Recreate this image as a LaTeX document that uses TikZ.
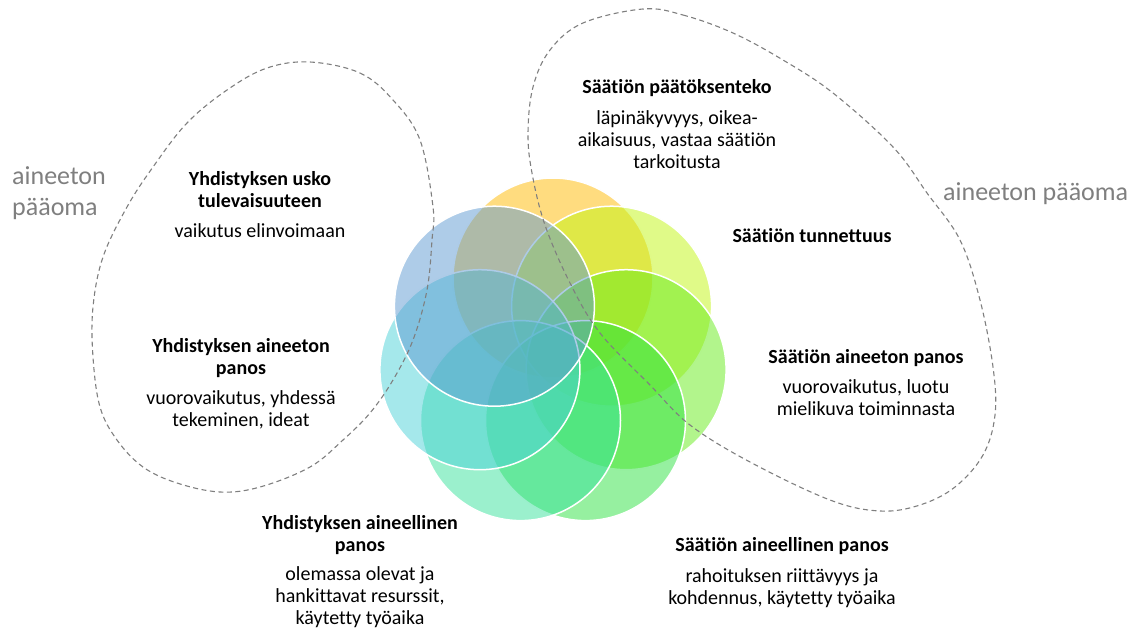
\documentclass[tikz,border=0pt]{standalone}
\usepackage{fontspec}
\setmainfont{Carlito}[Ligatures=NoCommon]

\definecolor{petalorange}{RGB}{255,185,0}
\definecolor{petallime}{RGB}{193,245,17}
\definecolor{petalgreen}{RGB}{101,235,25}
\definecolor{petalmint}{RGB}{45,225,65}
\definecolor{petalteal}{RGB}{55,225,155}
\definecolor{petalcyan}{RGB}{75,209,215}
\definecolor{petalblue}{RGB}{93,153,209}
\definecolor{capgray}{RGB}{127,127,127}

\begin{document}
\begin{tikzpicture}[
    x=1pt, y=-1pt,
    petal/.style={draw=white, line width=1.5pt, fill opacity=0.5, draw opacity=1},
    boundary/.style={draw=capgray, line width=1.1pt, dash pattern=on 5pt off 3.5pt},
    title/.style={font=\bfseries\fontsize{20}{22}\selectfont, align=center, anchor=base, inner sep=0pt},
    desc/.style={font=\fontsize{20}{22}\selectfont, align=center, anchor=base, inner sep=0pt},
    capital/.style={font=\fontsize{26}{31}\selectfont, text=capgray, align=left, anchor=base west, inner sep=0pt}
]
\useasboundingbox (0,0) rectangle (1138,630);

% Petal centres on a ring round (553,353)
\coordinate (p1) at (553,278);
\coordinate (p2) at (611.6,306.2);
\coordinate (p3) at (626.1,369.7);
\coordinate (p4) at (585.5,420.6);
\coordinate (p5) at (520.5,420.6);
\coordinate (p6) at (479.9,369.7);
\coordinate (p7) at (494.4,306.2);

% Overlapping petals
\filldraw[petal, fill=petalorange] (p1) circle (100pt);
\filldraw[petal, fill=petallime] (p2) circle (100pt);
\filldraw[petal, fill=petalgreen] (p3) circle (100pt);
\filldraw[petal, fill=petalmint] (p4) circle (100pt);
\filldraw[petal, fill=petalteal] (p5) circle (100pt);
\filldraw[petal, fill=petalcyan] (p6) circle (100pt);
\filldraw[petal, fill=petalblue] (p7) circle (100pt);

% Dashed boundary, association side
\draw[boundary] plot[smooth cycle, tension=0.6] coordinates {
    (310,62) (360,73) (393,100) (420,140) (433,207) (432,240) (427,290)
    (413,340) (393,380) (370,413) (343,440) (310,467) (260,487) (220,492)
    (177,483) (143,467) (117,440) (100,407) (93,357) (93,307) (103,257)
    (127,207) (153,167) (187,123) (227,90) (267,68)};

% Dashed boundary, foundation side
\draw[boundary] plot[smooth cycle, tension=0.6] coordinates {
    (643,9) (683,15) (733,33) (783,60) (833,93) (893,147) (927,193)
    (960,240) (980,300) (993,367) (995,415) (983,455) (955,487) (920,505)
    (880,511) (830,500) (750,462) (690,425) (650,385) (600,333) (570,283)
    (545,225) (532,173) (528,133) (533,87) (550,50) (583,23)};

% Intangible capital labels (anchored at last baseline)
\node[capital] (leftcap) at (12,215) {aineeton\\pääoma};
\node[capital] (rightcap) at (943,200) {aineeton pääoma};

% Association texts
\node[title] (yusko) at (260,207) {Yhdistyksen usko\\tulevaisuuteen};
\node[desc] (yuskotxt) at (260,237) {vaikutus elinvoimaan};
\node[title] (yaineeton) at (241,374) {Yhdistyksen aineeton\\panos};
\node[desc] (yaineetontxt) at (241,426) {vuorovaikutus, yhdessä\\tekeminen, ideat};
\node[title] (yaineellinen) at (360,551) {Yhdistyksen aineellinen\\panos};
\node[desc] (yaineellinentxt) at (360,624) {olemassa olevat ja\\hankittavat resurssit,\\käytetty työaika};

% Foundation texts
\node[title] (spaatos) at (677,93) {Säätiön päätöksenteko};
\node[desc] (spaatostxt) at (677,168) {läpinäkyvyys, oikea-\\aikaisuus, vastaa säätiön\\tarkoitusta};
\node[title] (stunnet) at (812,242) {Säätiön tunnettuus};
\node[title] (saineeton) at (866,363) {Säätiön aineeton panos};
\node[desc] (saineetontxt) at (866,415) {vuorovaikutus, luotu\\mielikuva toiminnasta};
\node[title] (saineellinen) at (782,551) {Säätiön aineellinen panos};
\node[desc] (saineellinentxt) at (782,604) {rahoituksen riittävyys ja\\kohdennus, käytetty työaika};

\end{tikzpicture}
\end{document}
